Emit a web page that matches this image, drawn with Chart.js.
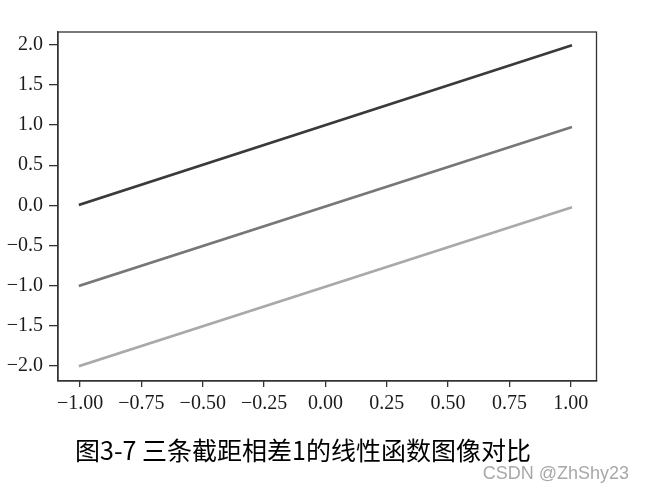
<!DOCTYPE html>
<html><head><meta charset="utf-8">
<script src="https://cdn.jsdelivr.net/npm/chart.js@4"></script>
<style>
html,body{margin:0;padding:0;background:#fff;}
#wrap{position:relative;width:645px;height:493px;overflow:hidden;}
#c{position:absolute;left:0;top:0;}
#title{position:absolute;left:75px;top:437px;font-family:"Noto Sans CJK SC",sans-serif;font-size:25px;line-height:25px;color:#000;white-space:nowrap;}
#wm{position:absolute;right:16px;top:464px;font-family:"Liberation Sans",Arial,sans-serif;font-size:18px;line-height:18px;color:#a8a8a8;white-space:nowrap;}
</style></head>
<body>
<div id="wrap">
<canvas id="c" width="645" height="493"></canvas>
<div id="title">图3-7 三条截距相差1的线性函数图像对比</div>
<div id="wm">CSDN @ZhShy23</div>
</div>
<script>
const xValues = [-1, 1];
const lineTop = [0.01, 1.99];
const lineMid = [-1.0, 0.97];
const lineBot = [-2.0, -0.03];
const xTicks = [-1, -0.75, -0.5, -0.25, 0, 0.25, 0.5, 0.75, 1];
const yTicks = [-2, -1.5, -1, -0.5, 0, 0.5, 1, 1.5, 2];

const pts = arr => xValues.map((x, i) => ({x: x, y: arr[i]}));
const fmt = (v, d) => (v < 0 ? '\u2212' : '') + Math.abs(v).toFixed(d);

const frame = {
  id: 'frame',
  afterDatasetsDraw(chart) {
    const a = chart.chartArea, ctx = chart.ctx;
    ctx.save();
    ctx.strokeStyle = '#333';
    ctx.lineWidth = 1.3;
    ctx.strokeRect(a.left, a.top, a.right - a.left, a.bottom - a.top);
    ctx.restore();
  }
};

const ds = (data, color) => ({
  data: pts(data), borderColor: color, backgroundColor: color,
  borderWidth: 2.6, pointRadius: 0, showLine: true, fill: false,
  borderCapStyle: 'square', tension: 0
});

const tickFont = { family: '"Liberation Serif", "Times New Roman", serif', size: 20 };

new Chart(document.getElementById('c'), {
  type: 'scatter',
  data: { datasets: [ds(lineTop, '#3a3a3a'), ds(lineMid, '#777777'), ds(lineBot, '#a9a9a9')] },
  options: {
    responsive: false, animation: false,
    layout: { padding: { top: 32, right: 48.5, left: 0, bottom: 0 } },
    plugins: { legend: { display: false }, tooltip: { enabled: false } },
    scales: {
      x: {
        type: 'linear', min: -1.09, max: 1.105,
        afterBuildTicks: s => { s.ticks = xTicks.map(v => ({value: v})); },
        afterFit: s => { s.height = 493 - 381; },
        grid: { drawOnChartArea: false, drawTicks: true, tickLength: 6, color: '#333', lineWidth: 1.3 },
        border: { display: true, color: '#333', width: 1.3 },
        ticks: { color: '#1a1a1a', padding: 5, font: tickFont,
                 callback: v => fmt(v, 2), maxRotation: 0, autoSkip: false }
      },
      y: {
        type: 'linear', min: -2.19, max: 2.16,
        afterBuildTicks: s => { s.ticks = yTicks.map(v => ({value: v})); },
        afterFit: s => { s.width = 58; },
        grid: { drawOnChartArea: false, drawTicks: true, tickLength: 9, color: '#333', lineWidth: 1.3 },
        border: { display: true, color: '#333', width: 1.3 },
        ticks: { color: '#1a1a1a', padding: 6, font: tickFont,
                 callback: v => fmt(v, 1), autoSkip: false }
      }
    }
  },
  plugins: [frame]
});
</script>
</body></html>
